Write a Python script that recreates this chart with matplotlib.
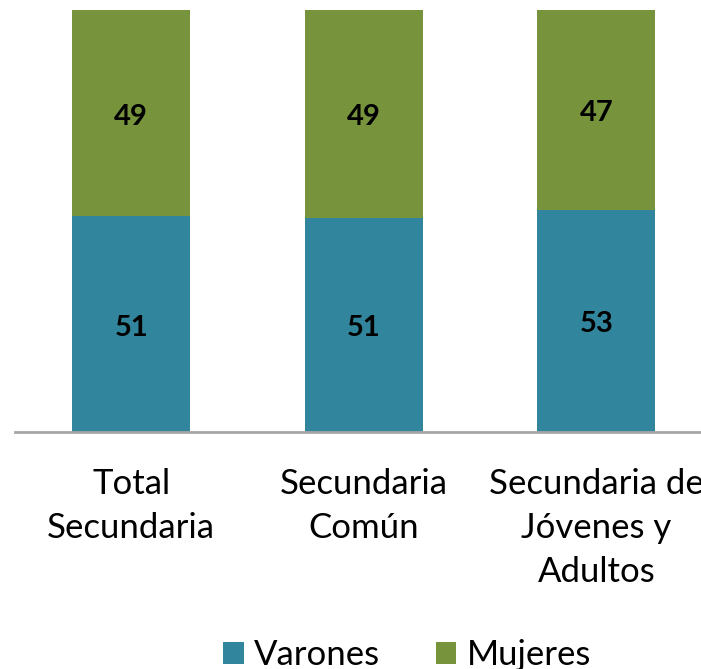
import matplotlib.pyplot as plt
import numpy as np

plt.rcParams["font.family"] = ["Lato", "DejaVu Sans"]

categories = ["Total\nSecundaria", "Secundaria\nComún", "Secundaria de\nJóvenes y\nAdultos"]
varones = [51.1, 50.8, 52.6]
mujeres = [48.9, 49.2, 47.4]

C_VAR = "#31859C"
C_MUJ = "#77933C"

fig = plt.figure(figsize=(7.01, 6.69), dpi=100)
ax = fig.add_axes([15 / 701, 237 / 669, 686 / 701, 422 / 669])

x = np.arange(len(categories))
b1 = ax.bar(x, varones, width=0.508, color=C_VAR, label="Varones")
b2 = ax.bar(x, mujeres, width=0.508, bottom=varones, color=C_MUJ, label="Mujeres")

for bars, vals, base in ((b1, varones, [0] * 3), (b2, mujeres, varones)):
    for r, v, b in zip(bars, vals, base):
        ax.text(r.get_x() + r.get_width() / 2, b + v / 2 - 0.8, f"{v:.0f}",
                ha="center", va="center", fontsize=21, fontweight="bold", color="black")

ax.set_xlim(-0.5, 2.45)
ax.set_ylim(0, 100)
ax.set_yticks([])
ax.set_xticks(x)
ax.set_xticklabels(categories, fontsize=25, linespacing=1.45)
ax.tick_params(axis="x", length=0, pad=26)
for s in ("top", "right", "left"):
    ax.spines[s].set_visible(False)
ax.spines["bottom"].set_color("#A6A6A6")
ax.spines["bottom"].set_linewidth(2)

fig.legend(loc="center", bbox_to_anchor=(407 / 701, 14 / 669), ncol=2, frameon=False,
           fontsize=25, handlelength=0.6, handleheight=0.6, handletextpad=0.3,
           columnspacing=1.6)

fig.savefig("out.png", dpi=100)
